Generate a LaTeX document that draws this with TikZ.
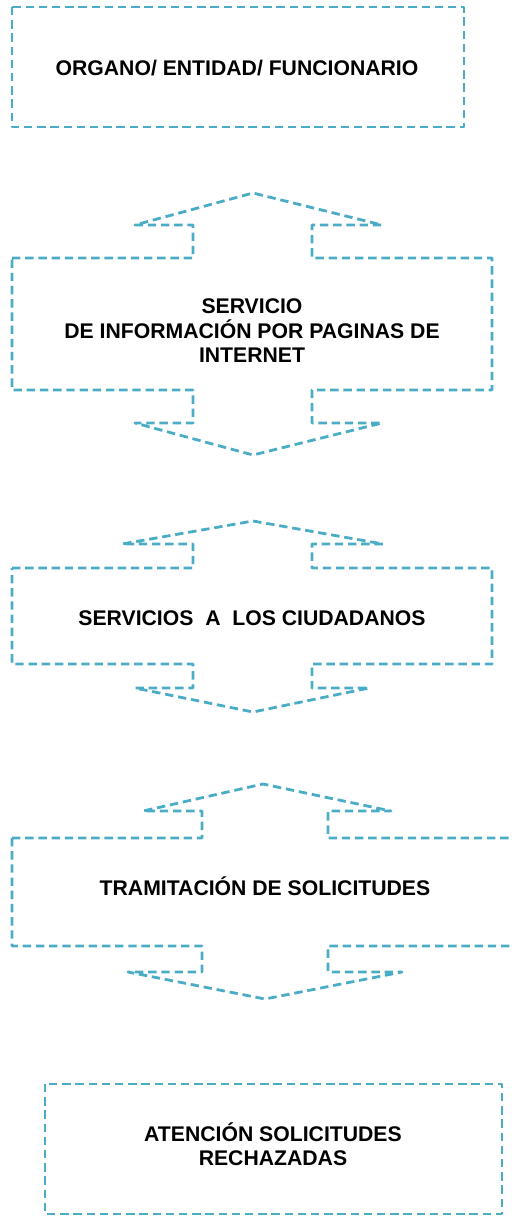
\documentclass[tikz,border=0pt]{standalone}
\usepackage{fontspec}
\setmainfont{Liberation Sans}
\usepackage{xcolor}
\definecolor{aqua}{HTML}{4BACC6}
\tikzstyle{outline} = [aqua, line width=1.4pt, dash pattern=on 4.2pt off 2.4pt, line join=round]
\tikzstyle{boxtext} = [align=center, inner sep=0pt, font=\bfseries\fontsize{10.6}{12.25}\selectfont]

\begin{document}
\begin{tikzpicture}[x=0.5pt, y=-0.5pt]
    \clip (0,0) rectangle (511,1216);

    % organo
    \draw [outline] (12,7) rectangle (464,127);
    \node [boxtext, anchor=base] (organo) at (237,75) {ORGANO/ ENTIDAD/ FUNCIONARIO};

    % servicio de informacion
    \draw [outline] (12,258) -- (193,258) -- (193,225) -- (135,225) -- (253,193) -- (382,225) -- (312,225) -- (312,258)
        -- (492,258) -- (492,390) -- (312,390) -- (312,423) -- (382,423) -- (253,455) -- (135,423) -- (193,423) -- (193,390)
        -- (12,390) -- cycle;
    \node [boxtext] (internet) at (252,331) {SERVICIO\\ DE INFORMACIÓN POR PAGINAS DE\\ INTERNET};

    % servicios a los ciudadanos
    \draw [outline] (12,568) -- (193,568) -- (193,544) -- (122,544) -- (253,521) -- (383,544) -- (312,544) -- (312,568)
        -- (492,568) -- (492,664) -- (312,664) -- (312,688) -- (369,688) -- (253,712) -- (135,688) -- (193,688) -- (193,664)
        -- (12,664) -- cycle;
    \node [boxtext, anchor=base] (ciudadanos) at (252,625) {SERVICIOS\ \ A\ \ LOS CIUDADANOS};

    % tramitacion
    \draw [outline] (12,838) -- (202,838) -- (202,811) -- (143,811) -- (263,784) -- (391,811) -- (328,811) -- (328,838)
        -- (530,838) -- (530,946) -- (328,946) -- (328,972) -- (402,972) -- (265,999) -- (128,972) -- (202,972) -- (202,946)
        -- (12,946) -- cycle;
    \node [boxtext, anchor=base] (tramitacion) at (265,895) {TRAMITACIÓN DE SOLICITUDES};

    % rechazadas
    \draw [outline] (45,1084) rectangle (502,1214);
    \node [boxtext] (rechazadas) at (273,1144) {ATENCIÓN SOLICITUDES\\ RECHAZADAS};
\end{tikzpicture}
\end{document}
